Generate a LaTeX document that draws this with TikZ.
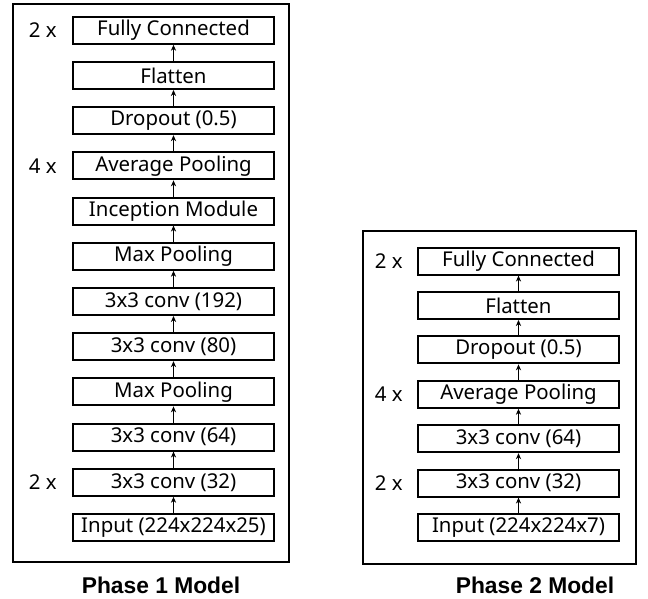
\documentclass[tikz,border=0pt]{standalone}
\usepackage{fontspec}
\setmainfont{Noto Sans}
\newfontfamily\captionfont{Liberation Sans}
\usetikzlibrary{arrows.meta, positioning, calc}

\begin{document}
\begin{tikzpicture}[
    >={Stealth[length=3pt, width=2.6pt]},
    node distance=8.1pt,
    layer/.style={rectangle, draw, line width=1pt, minimum width=100.5pt, minimum height=13.5pt, inner sep=0pt, font=\fontsize{10.2}{12}\selectfont},
    feed/.style={->, line width=0.4pt},
    mult/.style={left=7.5pt of #1, inner sep=0pt, font=\fontsize{10.2}{12}\selectfont},
    frame/.style={draw, line width=1pt},
    caption/.style={font=\captionfont\bfseries\fontsize{11.4}{13}\selectfont}
  ]
  \useasboundingbox (0,0) rectangle (324pt,299.5pt);

  % Phase 1 stack
  \node[layer] (inA) at (86.75pt,35.75pt) {Input (224x224x25)};
  \node[layer, above=of inA] (c32A) {3x3 conv (32)};
  \node[layer, above=of c32A] (c64A) {3x3 conv (64)};
  \node[layer, above=of c64A] (maxA) {Max Pooling};
  \node[layer, above=of maxA] (c80A) {3x3 conv (80)};
  \node[layer, above=of c80A] (c192A) {3x3 conv (192)};
  \node[layer, above=of c192A] (maxB) {Max Pooling};
  \node[layer, above=of maxB] (incA) {Inception Module};
  \node[layer, above=of incA] (avgA) {Average Pooling};
  \node[layer, above=of avgA] (dropA) {Dropout (0.5)};
  \node[layer, above=of dropA] (flatA) {Flatten};
  \node[layer, above=of flatA] (fcA) {Fully Connected};

  \foreach \a/\b in {inA/c32A, c32A/c64A, c64A/maxA, maxA/c80A, c80A/c192A, c192A/maxB,
                     maxB/incA, incA/avgA, avgA/dropA, dropA/flatA, flatA/fcA}
    \draw[feed] (\a) -- (\b);

  \node[mult=fcA] {2 x};
  \node[mult=avgA] {4 x};
  \node[mult=c32A] {2 x};

  \draw[frame] ($(fcA.north west)+(-29.5pt,6pt)$) rectangle ($(inA.south east)+(7pt,-10pt)$);
  \node[caption] (capA) at (80.5pt,7pt) {Phase 1 Model};

  % Phase 2 stack
  \begin{scope}[node distance=7.7pt, mult/.style={left=7pt of #1, inner sep=0pt, font=\fontsize{10.2}{12}\selectfont}]
    \node[layer] (inB) at (259.25pt,35.75pt) {Input (224x224x7)};
    \node[layer, above=of inB] (c32B) {3x3 conv (32)};
    \node[layer, above=of c32B] (c64B) {3x3 conv (64)};
    \node[layer, above=of c64B] (avgB) {Average Pooling};
    \node[layer, above=of avgB] (dropB) {Dropout (0.5)};
    \node[layer, above=of dropB] (flatB) {Flatten};
    \node[layer, above=of flatB] (fcB) {Fully Connected};

    \foreach \a/\b in {inB/c32B, c32B/c64B, c64B/avgB, avgB/dropB, dropB/flatB, flatB/fcB}
      \draw[feed] (\a) -- (\b);

    \node[mult=fcB] {2 x};
    \node[mult=avgB] {4 x};
    \node[mult=c32B] {2 x};
  \end{scope}

  \draw[frame] ($(fcB.north west)+(-27pt,8pt)$) rectangle ($(inB.south east)+(8pt,-11pt)$);
  \node[caption] (capB) at (267.5pt,7pt) {Phase 2 Model};

\end{tikzpicture}
\end{document}
